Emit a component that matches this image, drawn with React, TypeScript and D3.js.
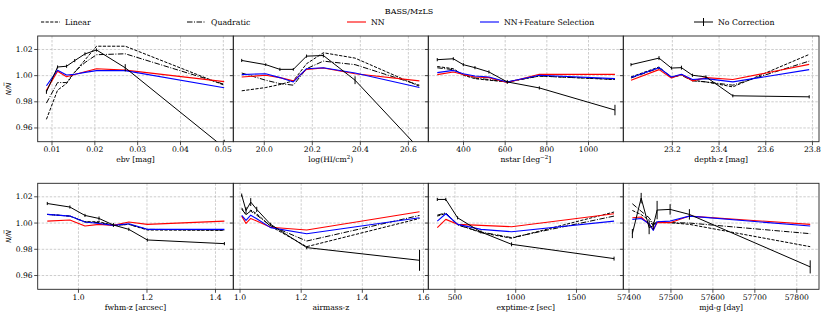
import React from 'react';
import * as d3 from 'd3';

// ---------- DATA ----------
const EBV_X = [0.0087, 0.0113, 0.0134, 0.0153, 0.0177, 0.0204, 0.0271, 0.0502];
const EBV_LIN = [0.9666, 0.9889, 0.994, 1.0025, 1.012, 1.0225, 1.0225, 0.9927];
const EBV_QUAD = [0.979, 0.9947, 0.9947, 1.003, 1.01, 1.016, 1.0167, 0.9934];
const EBV_NN = [0.9888, 1.0033, 0.9992, 1.0008, 1.003, 1.0053, 1.0042, 0.9954];
const EBV_NNFS = [0.9923, 1.0042, 1.0005, 1.001, 1.0025, 1.0038, 1.0038, 0.9908];
const EBV_NOCORR = [0.9876, 1.0066, 1.0072, 1.0115, 1.0166, 1.0196, 1.006, 0.945];
const EBV_ERR = [0.0015, 0.0012, 0.0012, 0.0012, 0.0012, 0.0012, 0.0028, 0.006];

const HI_X = [19.906, 20.006, 20.065, 20.121, 20.176, 20.246, 20.378, 20.646];
const HI_LIN = [0.9884, 0.9909, 0.9932, 0.996, 1.0091, 1.0175, 1.0134, 0.9919];
const HI_QUAD = [1.002, 0.9965, 0.9939, 0.9927, 1.0053, 1.0111, 1.0084, 0.9927];
const HI_NN = [0.999, 1.0003, 0.9985, 0.996, 1.0048, 1.0058, 1.0015, 0.996];
const HI_NNFS = [1.0008, 1.0015, 0.9985, 0.9952, 1.0053, 1.006, 1.002, 0.9909];
const HI_NOCORR = [1.0116, 1.0084, 1.0048, 1.0048, 1.0149, 1.0154, 0.9965, 0.944];
const HI_ERR = [0.0012, 0.001, 0.0012, 0.001, 0.0012, 0.0015, 0.003, 0.004];

const NSTAR_X = [274, 351, 399, 455, 522, 610, 764, 1127];
const NSTAR_LIN = [1.007, 1.0053, 1.0003, 0.9977, 0.9965, 0.9952, 0.9997, 0.997];
const NSTAR_QUAD = [1.006, 1.0046, 1.0008, 0.9982, 0.997, 0.9952, 0.9997, 0.9972];
const NSTAR_NN = [1.0008, 1.0028, 1.0008, 0.999, 0.9985, 0.9947, 1.001, 1.001];
const NSTAR_NNFS = [1.0023, 1.004, 1.0015, 0.9997, 0.999, 0.9952, 1.0003, 0.9977];
const NSTAR_NOCORR = [1.0122, 1.0129, 1.0084, 1.0061, 1.0028, 0.9952, 0.9906, 0.9737];
const NSTAR_ERR = [0.0012, 0.0012, 0.0012, 0.0012, 0.0012, 0.0015, 0.0012, 0.004];

const DEPTH_X = [23.023, 23.143, 23.196, 23.239, 23.286, 23.344, 23.459, 23.786];
const DEPTH_LIN = [0.999, 1.0066, 0.9985, 1.0008, 0.9965, 0.9952, 0.9914, 1.0162];
const DEPTH_QUAD = [0.9982, 1.0058, 0.999, 1.0003, 0.996, 0.9952, 0.9927, 1.0111];
const DEPTH_NN = [0.9965, 1.0046, 0.9982, 1.0008, 0.996, 0.9985, 0.997, 1.0086];
const DEPTH_NNFS = [0.9985, 1.0061, 0.999, 1.001, 0.997, 0.9977, 0.9952, 1.0046];
const DEPTH_NOCORR = [1.0084, 1.0134, 1.0058, 1.0061, 1.0003, 0.999, 0.9846, 0.9838];
const DEPTH_ERR = [0.0012, 0.0015, 0.0012, 0.0015, 0.0012, 0.0012, 0.0012, 0.0012];

const FWHM_X = [0.909, 0.975, 1.019, 1.06, 1.102, 1.147, 1.201, 1.426];
const FWHM_LIN = [1.0066, 1.0053, 1.001, 1.001, 0.9982, 0.999, 0.9947, 0.9944];
const FWHM_QUAD = [1.0066, 1.0053, 1.0008, 1.0003, 0.9982, 0.999, 0.9952, 0.9947];
const FWHM_NN = [1.0015, 1.0023, 0.9977, 0.999, 0.9982, 1.0008, 0.999, 1.0015];
const FWHM_NNFS = [1.0066, 1.0053, 1.0008, 0.9997, 0.9982, 0.9995, 0.9952, 0.9952];
const FWHM_NOCORR = [1.0149, 1.0122, 1.0058, 1.0035, 0.9985, 0.9952, 0.9871, 0.9843];
const FWHM_ERR = [0.0012, 0.0012, 0.0012, 0.0015, 0.0015, 0.0012, 0.0012, 0.0012];

const AIRMASS_X = [1.0055, 1.0196, 1.035, 1.0546, 1.1, 1.218, 1.587];
const AIRMASS_LIN = [1.0116, 1.006, 1.0099, 1.0071, 0.9975, 0.982, 1.0035];
const AIRMASS_QUAD = [1.0104, 1.0066, 1.0091, 1.006, 0.998, 0.9863, 1.0058];
const AIRMASS_NN = [1.0053, 0.9997, 1.0035, 1.0015, 0.9968, 0.9947, 1.0086];
const AIRMASS_NNFS = [1.0058, 1.002, 1.006, 1.0033, 0.9965, 0.9919, 1.004];
const AIRMASS_NOCORR = [1.0213, 1.0096, 1.016, 1.0104, 0.999, 0.9813, 0.9716];
const AIRMASS_ERR = [0.0012, 0.0025, 0.003, 0.002, 0.0012, 0.0012, 0.008];

const EXPTIME_X = [355, 425, 522, 714, 966, 1809];
const EXPTIME_LIN = [1.0053, 1.0073, 0.999, 0.9927, 0.9884, 1.0084];
const EXPTIME_QUAD = [1.006, 1.0078, 0.9985, 0.9932, 0.9889, 1.0053];
const EXPTIME_NN = [0.9965, 1.0028, 0.999, 0.9982, 0.9972, 1.0071];
const EXPTIME_NNFS = [1.0015, 1.0071, 0.999, 0.9952, 0.9934, 1.0015];
const EXPTIME_NOCORR = [1.018, 1.018, 1.004, 0.9932, 0.9838, 0.9729];
const EXPTIME_ERR = [0.0012, 0.0012, 0.0012, 0.0012, 0.0015, 0.0015];

const MJD_X = [57408, 57429, 57448, 57458, 57467, 57498, 57544, 57832];
const MJD_LIN = [1.0096, 1.0065, 1.002, 0.998, 1.0005, 1.0003, 0.999, 0.982];
const MJD_QUAD = [1.0147, 1.009, 1.004, 0.999, 1.001, 1.0003, 1.0, 0.9919];
const MJD_NN = [1.004, 1.0046, 0.999, 0.995, 1.0003, 1.0003, 1.0053, 0.999];
const MJD_NNFS = [1.0028, 1.0035, 0.9995, 0.9944, 1.001, 1.0015, 1.0053, 0.9977];
const MJD_NOCORR = [0.992, 1.019, 0.9965, 0.998, 1.0099, 1.0104, 1.0066, 0.9666];
const MJD_ERR = [0.0035, 0.004, 0.005, 0.003, 0.007, 0.004, 0.004, 0.005];

const Y_TICKS = [0.96, 0.98, 1.0, 1.02];
const SERIES_NAMES = ['Linear', 'Quadratic', 'NN', 'NN+Feature Selection', 'No Correction'];

// ---------- LAYOUT ----------
const COL_EDGES = [37.7, 233.3, 428.3, 623.3, 819];
const ROW_EDGES: [number, number][] = [[36, 141.7], [183.3, 289.3]];
const Y_DOMAIN: [number, number] = [0.9495, 1.0303];
const SERIF = "'DejaVu Serif', serif";
const FS = 7.6;

type Panel = {
  label: React.ReactNode;
  domain: [number, number];
  ticks: number[];
  fmt: (v: number) => string;
  x: number[]; lin: number[]; quad: number[]; nn: number[]; nnfs: number[]; nocorr: number[]; err: number[];
};

const PANELS: Panel[] = [
  { label: 'ebv [mag]', domain: [0.00666, 0.05233], ticks: [0.01, 0.02, 0.03, 0.04, 0.05], fmt: d3.format('.2f'),
    x: EBV_X, lin: EBV_LIN, quad: EBV_QUAD, nn: EBV_NN, nnfs: EBV_NNFS, nocorr: EBV_NOCORR, err: EBV_ERR },
  { label: <>log(HI/cm<tspan dy={-3} fontSize={5.5}>2</tspan><tspan dy={3}>)</tspan></>, domain: [19.871, 20.683], ticks: [20.0, 20.2, 20.4, 20.6], fmt: d3.format('.1f'),
    x: HI_X, lin: HI_LIN, quad: HI_QUAD, nn: HI_NN, nnfs: HI_NNFS, nocorr: HI_NOCORR, err: HI_ERR },
  { label: <>nstar [deg<tspan dy={-3} fontSize={5.5}>−2</tspan><tspan dy={3}>]</tspan></>, domain: [231, 1167], ticks: [400, 600, 800, 1000], fmt: d3.format('d'),
    x: NSTAR_X, lin: NSTAR_LIN, quad: NSTAR_QUAD, nn: NSTAR_NN, nnfs: NSTAR_NNFS, nocorr: NSTAR_NOCORR, err: NSTAR_ERR },
  { label: 'depth-z [mag]', domain: [22.99, 23.828], ticks: [23.2, 23.4, 23.6, 23.8], fmt: d3.format('.1f'),
    x: DEPTH_X, lin: DEPTH_LIN, quad: DEPTH_QUAD, nn: DEPTH_NN, nnfs: DEPTH_NNFS, nocorr: DEPTH_NOCORR, err: DEPTH_ERR },
  { label: 'fwhm-z [arcsec]', domain: [0.881, 1.452], ticks: [1.0, 1.2, 1.4], fmt: d3.format('.1f'),
    x: FWHM_X, lin: FWHM_LIN, quad: FWHM_QUAD, nn: FWHM_NN, nnfs: FWHM_NNFS, nocorr: FWHM_NOCORR, err: FWHM_ERR },
  { label: 'airmass-z', domain: [0.978, 1.6157], ticks: [1.0, 1.2, 1.4, 1.6], fmt: d3.format('.1f'),
    x: AIRMASS_X, lin: AIRMASS_LIN, quad: AIRMASS_QUAD, nn: AIRMASS_NN, nnfs: AIRMASS_NNFS, nocorr: AIRMASS_NOCORR, err: AIRMASS_ERR },
  { label: 'exptime-z [sec]', domain: [281, 1885], ticks: [500, 1000, 1500], fmt: d3.format('d'),
    x: EXPTIME_X, lin: EXPTIME_LIN, quad: EXPTIME_QUAD, nn: EXPTIME_NN, nnfs: EXPTIME_NNFS, nocorr: EXPTIME_NOCORR, err: EXPTIME_ERR },
  { label: 'mjd-g [day]', domain: [57386.4, 57853], ticks: [57400, 57500, 57600, 57700, 57800], fmt: d3.format('d'),
    x: MJD_X, lin: MJD_LIN, quad: MJD_QUAD, nn: MJD_NN, nnfs: MJD_NNFS, nocorr: MJD_NOCORR, err: MJD_ERR },
];

const STYLES = [
  { stroke: '#000', dash: '3.2,1.4', width: 1.0 },
  { stroke: '#000', dash: '5.5,1.5,1,1.5', width: 1.0 },
  { stroke: '#ff0000', dash: undefined, width: 1.1 },
  { stroke: '#0000ff', dash: undefined, width: 1.1 },
  { stroke: '#000', dash: undefined, width: 1.0 },
];

function PanelView({ p, i }: { p: Panel; i: number }) {
  const col = i % 4, row = Math.floor(i / 4);
  const x0 = COL_EDGES[col], x1 = COL_EDGES[col + 1];
  const [y0, y1] = ROW_EDGES[row];
  const xs = d3.scaleLinear().domain(p.domain).range([x0, x1]);
  const ys = d3.scaleLinear().domain(Y_DOMAIN).range([y1, y0]);
  const line = d3.line<number>().x((_, k) => xs(p.x[k])).y((v) => ys(v));
  const series = [p.lin, p.quad, p.nn, p.nnfs, p.nocorr];
  const clipId = `clip${i}`;
  return (
    <g>
      <defs>
        <clipPath id={clipId}><rect x={x0} y={y0} width={x1 - x0} height={y1 - y0} /></clipPath>
      </defs>
      {/* grid */}
      {Y_TICKS.map((t) => (
        <line key={'gy' + t} x1={x0} x2={x1} y1={ys(t)} y2={ys(t)} stroke="#b8b8b8" strokeWidth={0.7} strokeDasharray="2.5,1.5" />
      ))}
      {p.ticks.map((t) => (
        <line key={'gx' + t} x1={xs(t)} x2={xs(t)} y1={y0} y2={y1} stroke="#b8b8b8" strokeWidth={0.7} strokeDasharray="2.5,1.5" />
      ))}
      {/* series */}
      <g clipPath={`url(#${clipId})`}>
        {series.map((s, k) => (
          <path key={k} d={line(s) || ''} fill="none" stroke={STYLES[k].stroke} strokeWidth={STYLES[k].width}
            strokeDasharray={STYLES[k].dash} strokeLinejoin="round" />
        ))}
        {p.nocorr.map((v, k) => (
          <line key={'e' + k} x1={xs(p.x[k])} x2={xs(p.x[k])} y1={ys(v - p.err[k])} y2={ys(v + p.err[k])} stroke="#000" strokeWidth={1} />
        ))}
      </g>
      {/* frame */}
      <rect x={x0} y={y0} width={x1 - x0} height={y1 - y0} fill="none" stroke="#222" strokeWidth={0.9} />
      {/* y ticks */}
      {Y_TICKS.map((t) => (
        <line key={'ty' + t} x1={x0 - 3.5} x2={x0} y1={ys(t)} y2={ys(t)} stroke="#222" strokeWidth={0.8} />
      ))}
      {col === 0 && Y_TICKS.map((t) => (
        <text key={'ly' + t} x={x0 - 5} y={ys(t)} dy="0.33em" textAnchor="end" fontFamily={SERIF} fontSize={FS} fill="#000">
          {d3.format('.2f')(t)}
        </text>
      ))}
      {col === 0 && (
        <text transform={`translate(${x0 - 27},${(y0 + y1) / 2}) rotate(-90)`} textAnchor="middle"
          fontFamily="'DejaVu Sans', sans-serif" fontStyle="italic" fontSize={7} fill="#000">
          N/N̅
        </text>
      )}
      {/* x ticks */}
      {p.ticks.map((t) => (
        <g key={'tx' + t}>
          <line x1={xs(t)} x2={xs(t)} y1={y1} y2={y1 + 3.5} stroke="#222" strokeWidth={0.8} />
          <text x={xs(t)} y={y1 + 10.3} textAnchor="middle" fontFamily={SERIF} fontSize={FS} fill="#000">{p.fmt(t)}</text>
        </g>
      ))}
      <text x={(x0 + x1) / 2} y={y1 + 20.2} textAnchor="middle" fontFamily={SERIF} fontSize={FS} fill="#000">{p.label}</text>
    </g>
  );
}

const LEGEND_X = [41, 187, 347, 480, 694];

function Legend() {
  return (
    <g>
      <text x={409} y={13.5} textAnchor="middle" fontFamily={SERIF} fontSize={8} fill="#000">BASS/MzLS</text>
      {SERIES_NAMES.map((name, k) => {
        const lx = LEGEND_X[k];
        const st = STYLES[k];
        return (
          <g key={name}>
            <line x1={lx} x2={lx + 19} y1={22} y2={22} stroke={st.stroke} strokeWidth={st.width} strokeDasharray={st.dash} />
            {k === 4 && <line x1={lx + 9.5} x2={lx + 9.5} y1={18} y2={26} stroke="#000" strokeWidth={1} />}
            <text x={lx + 24} y={24.8} fontFamily={SERIF} fontSize={7.8} fill="#000">{name}</text>
          </g>
        );
      })}
    </g>
  );
}

export default function App() {
  return (
    <svg width={830} height={318} viewBox="0 0 830 318"
      style={{ position: 'absolute', left: 0, top: 0, background: '#fff' }}>
      <rect x={0} y={0} width={830} height={318} fill="#fff" />
      <Legend />
      {PANELS.map((p, i) => <PanelView key={i} p={p} i={i} />)}
    </svg>
  );
}
